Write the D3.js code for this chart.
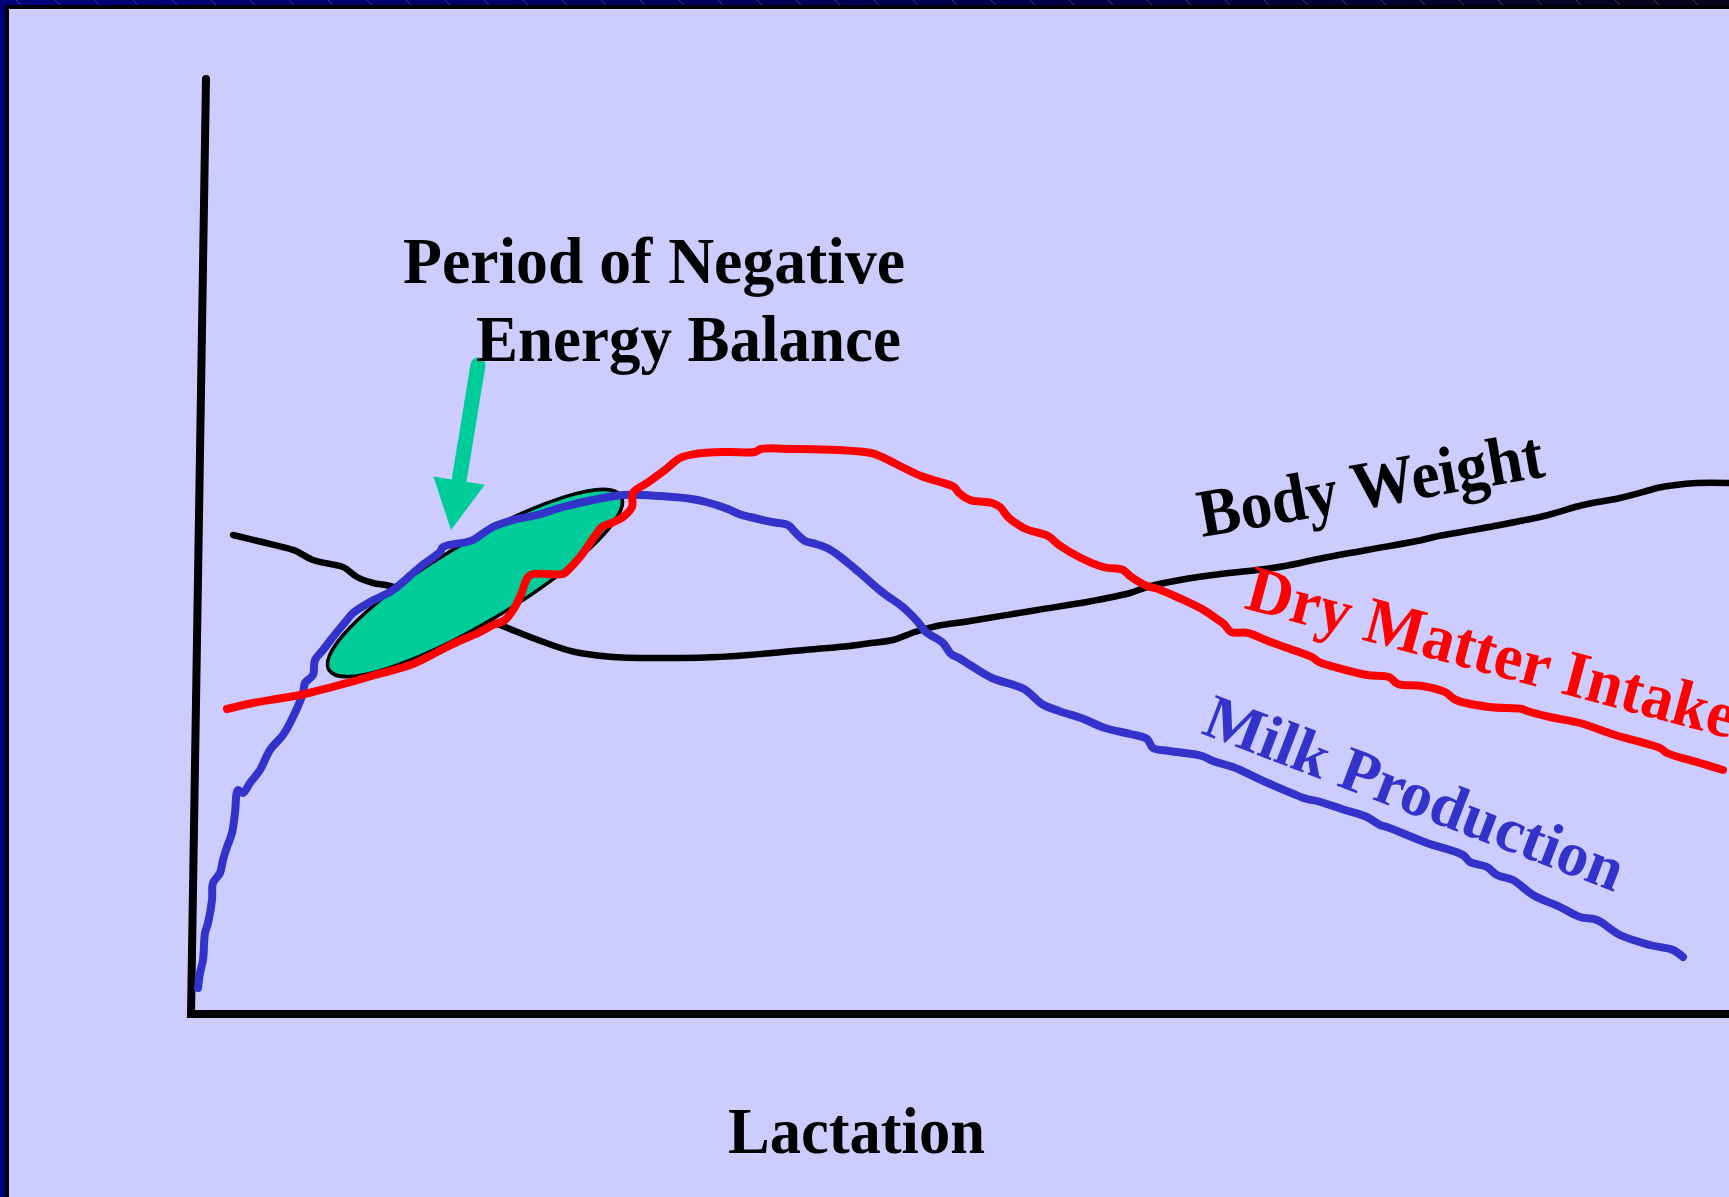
<!DOCTYPE html>
<html>
<head>
<meta charset="utf-8">
<script src="https://cdn.jsdelivr.net/npm/d3@7"></script>
<style>
  html, body { margin: 0; padding: 0; background: #CCCCFF; overflow: hidden; }
  svg { display: block; }
</style>
</head>
<body>
<script>
// Stage of lactation (x) against relative level (y), arbitrary units.
const bodyWeight = [
  [4.2,47.9],[7.1,47.2],[9.9,46.5],[10.5,46.3],[12.2,45.4],[14.9,44.8],[15.4,44.6],
  [16.6,43.7],[18.2,43.1],[19.9,42.8],[25.4,40.9],[30.9,38.9],[33.9,37.7],[37.6,36.4],
  [38.9,36.1],[42.2,35.7],[48.9,35.6],[52.6,35.7],[58.1,36.1],[62.5,36.5],[65.8,36.8],
  [68.0,37.1],[70.2,37.4],[72.4,38.2],[74.6,38.8],[77.9,39.3],[84.6,40.4],[90.1,41.3],
  [93.9,42.1],[95.6,42.7],[98.9,43.4],[102.2,43.9],[106.6,44.4],[109.4,44.8],[113.2,45.6],
  [117.6,46.4],[123.1,47.4],[124.3,47.7],[129.8,48.7],[135.3,49.8],[139.2,50.9],[142.9,51.6],
  [145.9,52.4],[146.6,52.6],[150.6,53.1],[153.8,53.1]
];

const dryMatterIntake = [
  [3.6,30.5],[6.2,31.1],[8.5,31.5],[10.9,31.9],[15.6,33.1],[18.4,33.9],[22.2,35.0],
  [25.0,36.4],[26.6,37.2],[28.7,38.1],[30.2,38.9],[31.4,39.4],[32.2,40.4],[32.9,41.7],
  [33.7,43.7],[34.2,44.0],[37.2,44.0],[37.7,44.4],[38.9,45.7],[40.6,48.1],[41.1,48.7],
  [41.8,49.0],[43.2,49.7],[44.1,50.7],[44.2,52.1],[45.6,53.1],[47.4,54.4],[48.9,55.6],
  [50.4,56.0],[53.7,56.2],[56.4,56.2],[57.0,56.5],[60.3,56.5],[64.7,56.4],[68.0,56.1],
  [69.1,55.7],[71.3,54.6],[73.0,53.8],[74.6,53.3],[76.3,52.7],[76.8,52.1],[77.9,51.4],
  [80.1,51.1],[80.9,50.7],[81.8,49.6],[83.5,48.5],[85.7,47.8],[86.8,46.9],[89.0,45.6],
  [91.2,44.7],[93.2,44.4],[93.9,43.8],[95.6,42.8],[96.7,42.5],[98.6,41.7],[101.1,40.5],
  [102.6,39.5],[103.3,39.0],[104.0,38.2],[105.7,38.1],[107.7,37.3],[110.5,36.3],[112.1,35.7],
  [112.8,35.2],[114.4,34.7],[117.6,33.9],[119.8,33.7],[120.7,33.0],[123.1,32.8],[125.4,32.2],
  [126.5,31.4],[129.8,30.7],[133.1,30.5],[133.6,30.3],[135.9,29.7],[138.9,29.1],[142.4,27.9],
  [146.9,26.6],[147.6,26.1],[150.9,25.1],[153.2,24.4]
];

const milkProduction = [
  [0.7,2.6],[0.9,4.1],[1.2,5.4],[1.4,8.1],[1.7,9.1],[2.1,11.4],[2.2,13.1],[2.9,14.1],
  [3.2,15.4],[3.6,16.7],[4.1,18.1],[4.4,20.1],[4.7,22.4],[5.2,22.1],[5.9,23.1],[6.9,24.4],
  [7.9,26.4],[9.2,27.9],[9.9,29.1],[11.2,32.1],[11.4,33.1],[12.2,33.9],[12.4,35.4],[13.2,36.4],
  [14.2,37.7],[15.6,39.4],[16.2,40.1],[17.9,41.2],[20.2,42.4],[22.9,44.7],[24.9,46.2],
  [25.2,46.7],[27.6,47.2],[28.2,47.4],[30.2,48.7],[32.2,49.4],[34.6,49.9],[37.2,50.7],
  [40.2,51.4],[43.2,51.9],[46.9,51.8],[50.1,51.5],[51.5,51.2],[53.7,50.5],[54.8,50.0],
  [55.9,49.7],[58.1,49.2],[59.7,48.9],[60.3,48.3],[61.4,47.3],[62.5,47.0],[63.6,46.6],
  [64.7,45.9],[66.9,44.1],[69.1,42.2],[71.3,40.6],[72.6,39.3],[73.5,38.2],[75.2,37.1],
  [76.0,36.0],[76.8,35.6],[77.9,34.9],[80.1,33.6],[83.3,32.5],[85.1,31.0],[86.8,30.3],
  [89.0,29.6],[91.4,28.6],[93.9,28.0],[95.6,27.5],[96.2,26.6],[97.8,26.3],[101.1,25.8],
  [102.2,25.3],[104.2,24.7],[107.7,23.1],[111.6,21.5],[112.6,21.3],[115.4,20.4],[117.6,19.7],
  [118.9,18.9],[119.6,18.7],[123.6,17.1],[127.2,15.9],[127.9,15.2],[129.6,14.7],[130.6,13.9],
  [132.2,13.4],[134.2,11.9],[136.9,10.7],[138.9,9.7],[140.6,9.4],[142.9,7.9],[145.9,6.9],
  [148.2,6.4],[149.2,5.7]
];

// Long axis of the shaded negative-energy-balance region, and the pointer arrow (tail -> tip)
const negativeBalanceAxis = [[13.8,34.4],[43.0,51.8]];
const pointerArrow = [[28.7,64.9],[26.0,48.4]];

// Axis extents: [origin, end of x axis], [origin, top of y axis]
const xAxisExtent = [[0,0],[153.8,0]];
const yAxisExtent = [[0,0],[1.5,93.5]];

const seriesLabels = ["Body Weight", "Dry Matter Intake", "Milk Production"];
const annotationLines = ["Period of Negative", "Energy Balance"];
const xAxisTitle = "Lactation";

const W = 1729, H = 1197;
const FONT = "'Liberation Serif', 'Times New Roman', Times, serif";

const svg = d3.select("body").append("svg")
  .attr("width", W).attr("height", H).attr("viewBox", `0 0 ${W} ${H}`);

const x = d3.scaleLinear().domain([0, 153.8]).range([191, 1729]);
const y = d3.scaleLinear().domain([0, 93.5]).range([1014, 79]);

const defs = svg.append("defs");
const grad = defs.append("linearGradient").attr("id", "frameGrad")
  .attr("x1", 0).attr("x2", 1).attr("y1", 0).attr("y2", 0);
grad.append("stop").attr("offset", "0%").attr("stop-color", "#00007c");
grad.append("stop").attr("offset", "55%").attr("stop-color", "#000050");
grad.append("stop").attr("offset", "100%").attr("stop-color", "#05051a");
const hatch = defs.append("pattern").attr("id", "hatch")
  .attr("patternUnits", "userSpaceOnUse").attr("width", 39).attr("height", 9);
hatch.append("line").attr("x1", 16).attr("y1", 0).attr("x2", 25).attr("y2", 9)
  .attr("stroke", "#8a8ac8").attr("stroke-width", 0.7).attr("opacity", 0.6);

// background and slide frame
svg.append("rect").attr("width", W).attr("height", H).attr("fill", "#CCCCFF");
svg.append("rect").attr("x", 0).attr("y", 0).attr("width", W).attr("height", 6).attr("fill", "url(#frameGrad)");
svg.append("rect").attr("x", 0).attr("y", 0).attr("width", W).attr("height", 6).attr("fill", "url(#hatch)");
svg.append("rect").attr("x", 0).attr("y", 0).attr("width", 5).attr("height", H).attr("fill", "#00007c");
svg.append("rect").attr("x", 0).attr("y", 0).attr("width", 5).attr("height", H).attr("fill", "url(#hatch)");
svg.append("rect").attr("x", 5).attr("y", 5).attr("width", W - 5).attr("height", 4).attr("fill", "#000");
svg.append("rect").attr("x", 5).attr("y", 5).attr("width", 4).attr("height", H - 5).attr("fill", "#000");

const axisLine = d3.line().x(d => x(d[0])).y(d => y(d[1])).curve(d3.curveLinear);
const line = d3.line().x(d => x(d[0])).y(d => y(d[1])).curve(d3.curveCatmullRom.alpha(0.5));

// axes: y axis down to the origin, then along to the right edge
svg.append("path")
  .attr("d", axisLine([yAxisExtent[1], yAxisExtent[0], xAxisExtent[1]]))
  .attr("fill", "none").attr("stroke", "#000").attr("stroke-width", 8)
  .attr("stroke-linecap", "round").attr("stroke-linejoin", "miter");

// body weight sits beneath the shaded region
svg.append("path").datum(bodyWeight).attr("d", line)
  .attr("fill", "none").attr("stroke", "#000").attr("stroke-width", 6.5)
  .attr("stroke-linejoin", "round").attr("stroke-linecap", "round");

// negative energy balance region
{
  const p0 = [x(negativeBalanceAxis[0][0]), y(negativeBalanceAxis[0][1])];
  const p1 = [x(negativeBalanceAxis[1][0]), y(negativeBalanceAxis[1][1])];
  const cx = (p0[0] + p1[0]) / 2, cy = (p0[1] + p1[1]) / 2;
  const rx = Math.hypot(p1[0] - p0[0], p1[1] - p0[1]) / 2;
  const ang = Math.atan2(p1[1] - p0[1], p1[0] - p0[0]) * 180 / Math.PI;
  svg.append("ellipse")
    .attr("cx", 0).attr("cy", 0).attr("rx", rx).attr("ry", 40)
    .attr("transform", `translate(${cx},${cy}) rotate(${ang})`)
    .attr("fill", "#00CC99").attr("stroke", "#000").attr("stroke-width", 3.5);
}

// pointer arrow
{
  const t = [x(pointerArrow[0][0]), y(pointerArrow[0][1])];
  const h = [x(pointerArrow[1][0]), y(pointerArrow[1][1])];
  const len = Math.hypot(h[0] - t[0], h[1] - t[1]);
  const ux = (h[0] - t[0]) / len, uy = (h[1] - t[1]) / len;
  const headLen = 50, headHalf = 26;
  const b = [h[0] - ux * headLen, h[1] - uy * headLen];
  svg.append("line")
    .attr("x1", t[0]).attr("y1", t[1]).attr("x2", b[0] + ux * 4).attr("y2", b[1] + uy * 4)
    .attr("stroke", "#00CC99").attr("stroke-width", 15).attr("stroke-linecap", "round");
  svg.append("path")
    .attr("d", `M${b[0] - uy * headHalf},${b[1] + ux * headHalf} L${h[0]},${h[1]} L${b[0] + uy * headHalf},${b[1] - ux * headHalf} Z`)
    .attr("fill", "#00CC99");
}

svg.append("path").datum(milkProduction).attr("d", line)
  .attr("fill", "none").attr("stroke", "#3333CC").attr("stroke-width", 8)
  .attr("stroke-linejoin", "round").attr("stroke-linecap", "round");

svg.append("path").datum(dryMatterIntake).attr("d", line)
  .attr("fill", "none").attr("stroke", "#FF0000").attr("stroke-width", 8)
  .attr("stroke-linejoin", "round").attr("stroke-linecap", "round");

// text
function label(str, px, py, rot, size, len, color) {
  svg.append("text")
    .attr("transform", `translate(${px},${py}) rotate(${rot})`)
    .attr("font-family", FONT).attr("font-weight", "bold")
    .attr("font-size", size).attr("fill", color)
    .attr("textLength", len).attr("lengthAdjust", "spacingAndGlyphs")
    .text(str);
}

label(annotationLines[0], 403, 283, 0, 66, 502, "#000");
label(annotationLines[1], 476, 361, 0, 66, 425, "#000");
label(seriesLabels[0], 1202, 537, -10, 68, 350, "#000");
label(seriesLabels[1], 1243, 608, 15, 66, 504, "#FF0000");
label(seriesLabels[2], 1200, 733, 21, 63, 444, "#3333CC");
label(xAxisTitle, 728, 1153, 0, 66, 257, "#000");
</script>
</body>
</html>
